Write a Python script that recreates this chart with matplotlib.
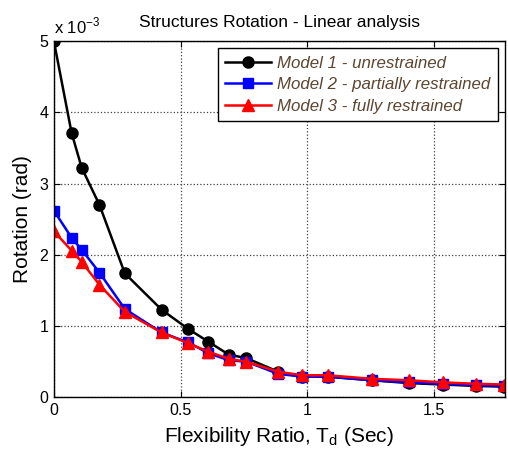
import matplotlib
matplotlib.use("Agg")
import matplotlib.pyplot as plt
from matplotlib.ticker import FuncFormatter

plt.rcParams['font.family'] = ['Liberation Sans', 'DejaVu Sans']

# flexibility ratio T_d (sec)
td = [0.0, 0.07, 0.11, 0.18, 0.28, 0.425, 0.53, 0.61, 0.69, 0.76,
      0.885, 0.98, 1.08, 1.255, 1.40, 1.535, 1.665, 1.775]

# rotation (rad)
rot_model1 = [5.00e-3, 3.71e-3, 3.22e-3, 2.70e-3, 1.74e-3, 1.23e-3, 0.96e-3, 0.78e-3, 0.60e-3, 0.55e-3,
              0.36e-3, 0.29e-3, 0.29e-3, 0.24e-3, 0.20e-3, 0.18e-3, 0.16e-3, 0.15e-3]
rot_model2 = [2.62e-3, 2.24e-3, 2.07e-3, 1.75e-3, 1.24e-3, 0.91e-3, 0.77e-3, 0.62e-3, 0.52e-3, 0.50e-3,
              0.33e-3, 0.29e-3, 0.29e-3, 0.24e-3, 0.21e-3, 0.19e-3, 0.17e-3, 0.16e-3]
rot_model3 = [2.33e-3, 2.06e-3, 1.90e-3, 1.58e-3, 1.20e-3, 0.91e-3, 0.76e-3, 0.64e-3, 0.54e-3, 0.50e-3,
              0.36e-3, 0.31e-3, 0.31e-3, 0.26e-3, 0.24e-3, 0.21e-3, 0.19e-3, 0.18e-3]

labels = ["Model 1 - unrestrained", "Model 2 - partially restrained", "Model 3 - fully restrained"]

fig = plt.figure(figsize=(5.08, 4.5), dpi=100)
ax = fig.add_axes([0.106, 0.117, 0.888, 0.792])

ax.plot(td, rot_model1, "k-o", lw=1.8, ms=8, label=labels[0])
ax.plot(td, rot_model2, "-s", color="#0000ff", mfc="#0000ff", mec="#0000ff", lw=1.8, ms=7.5, label=labels[1])
ax.plot(td, rot_model3, "-^", color="#ff0000", mfc="#ff0000", mec="#ff0000", lw=1.8, ms=8.5, label=labels[2])

ax.set_xlim(0, 1.78)
ax.set_ylim(0, 5e-3)
ax.set_xticks([0, 0.5, 1, 1.5])
ax.set_xticklabels(["0", "0.5", "1", "1.5"])
ax.set_yticks([0, 1e-3, 2e-3, 3e-3, 4e-3, 5e-3])
ax.yaxis.set_major_formatter(FuncFormatter(lambda v, p: f"{v * 1e3:g}"))
ax.tick_params(direction="in", top=True, right=True, labelsize=11.5, length=4, width=0.8, pad=4)
ax.grid(True, color="#404040", linestyle=":", linewidth=0.9)
for s in ax.spines.values():
    s.set_linewidth(1.0)

ax.set_xlabel("Flexibility Ratio, T$_\\mathregular{d}$ (Sec)", fontsize=15, labelpad=5)
ax.set_ylabel("Rotation (rad)", fontsize=15, labelpad=5)
ax.set_title("Structures Rotation - Linear analysis", fontsize=12.5, pad=10)
ax.text(0.0, 1.012, "x 10$^\\mathregular{-3}$", transform=ax.transAxes, fontsize=12,
        ha="left", va="bottom")

leg = ax.legend(loc="upper right", bbox_to_anchor=(0.9845, 0.98), fancybox=False, framealpha=1,
                edgecolor="black", fontsize=12.2, handlelength=2.7, borderpad=0.45,
                labelspacing=0.38, handletextpad=0.35, borderaxespad=0)
leg.get_frame().set_linewidth(1.0)
for t in leg.get_texts():
    t.set_fontstyle("italic")
    t.set_color("#5c4630")

fig.savefig("out.png", dpi=100)
